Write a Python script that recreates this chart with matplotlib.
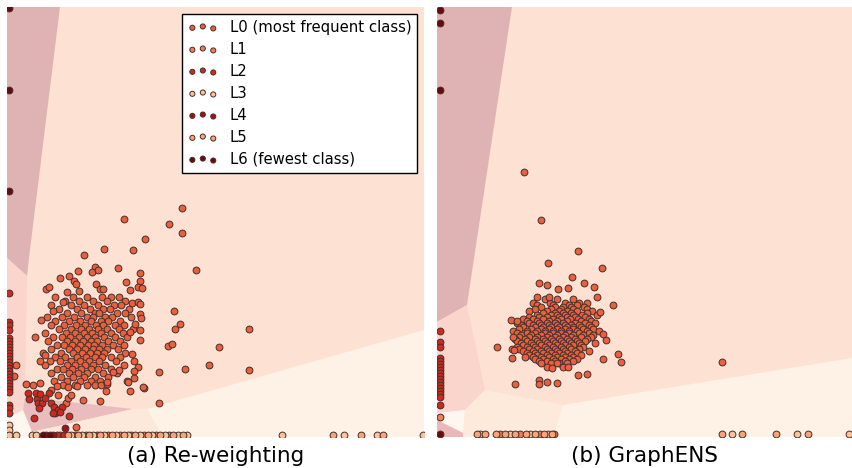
import matplotlib
matplotlib.use('Agg')
import matplotlib.pyplot as plt
from matplotlib.patches import Polygon, Rectangle

# ---------------- classes ----------------
CLASS_NAMES = ['L0 (most frequent class)', 'L1', 'L2', 'L3', 'L4', 'L5', 'L6 (fewest class)']
CLASS_COLORS = ['#e9603f', '#f07f58', '#cd2a1f', '#fcc39b', '#a11218', '#f9a37a', '#660a0e']
PANEL_TITLES = ['(a) Re-weighting', '(b) GraphENS']

# ---------------- panel (a) : Re-weighting ----------------
A_XLIM = (0, 417)
A_YLIM = (0, 430)

# dense core of class L0, stored as (y, [x, ...]) rows
A_L0_CORE = [
    (140, [48, 66, 80, 95, 104, 112]),
    (136, [58, 72, 86, 100, 118]),
    (132, [44, 64, 77, 91, 107, 114]),
    (128, [52, 70, 83, 96, 103, 122]),
    (124, [60, 74, 88, 92, 110, 118]),
    (120, [40, 55, 67, 80, 86, 98, 105, 124]),
    (116, [48, 62, 73, 84, 94, 101, 113]),
    (112, [44, 57, 69, 78, 89, 96, 108, 117]),
    (108, [52, 64, 74, 82, 91, 100, 112, 126]),
    (104, [38, 59, 68, 77, 85, 94, 104, 116]),
    (100, [46, 55, 63, 72, 80, 88, 97, 108, 120]),
    (96, [41, 60, 68, 76, 84, 90, 101, 113]),
    (92, [50, 57, 65, 73, 81, 87, 95, 106, 117]),
    (88, [44, 62, 70, 78, 86, 92, 100, 111]),
    (84, [36, 54, 66, 75, 83, 90, 97, 118]),
    (80, [48, 58, 70, 79, 88, 95, 104, 113]),
    (76, [43, 53, 64, 73, 82, 92, 109]),
    (72, [38, 60, 68, 78, 86, 98, 117]),
    (68, [50, 56, 65, 74, 84, 91, 104]),
    (64, [44, 62, 71, 80, 96, 110]),
    (60, [54, 66, 77, 88, 101]),
    (56, [47, 60, 73, 84, 93]),
    (52, [56, 68, 80, 88]),
]
A_L0_EXTRA = [
    (175, 229), (117, 218), (162, 213), (175, 204), (138, 198), (97, 188), (126, 187),
    (77, 182), (189, 167), (111, 169), (71, 166), (88, 170), (85, 165), (91, 167),
    (53, 159), (62, 161), (67, 156), (69, 153), (133, 164), (119, 155), (133, 156),
    (123, 147), (131, 150), (135, 149), (39, 148), (42, 150), (60, 145), (72, 146),
    (89, 153), (93, 148), (96, 148), (167, 126), (242, 108), (168, 108), (173, 113),
    (161, 91), (165, 93), (212, 90), (202, 72), (178, 68), (152, 65), (242, 67),
    (28, 100), (19, 53), (26, 52), (33, 76), (38, 82), (34, 117), (46, 126), (56, 135),
    (125, 134), (131, 135), (133, 133), (133, 123), (134, 119), (128, 113), (123, 105),
    (133, 107), (133, 97), (125, 83), (127, 76), (131, 70), (127, 66), (127, 59),
    (120, 56), (123, 46), (137, 49), (99, 46), (94, 52), (100, 53), (112, 67), (106, 65),
    (76, 37), (93, 36), (152, 34), (59, 34), (61, 39), (69, 10), (33, 54), (44, 47),
    (50, 51), (61, 50), (70, 51), (100, 55), (121, 55), (136, 50), (51, 42), (64, 42),
    (9, 72), (7, 61),
]
A_L1 = [(53, 2), (68, 2), (79, 2), (90, 2), (101, 2), (113, 2), (124, 2), (137, 2),
        (149, 2), (162, 2)]
A_L2 = [(2, 144), (2, 115), (2, 112), (2, 107), (2, 99), (2, 96), (2, 93), (2, 90),
        (2, 87), (2, 84), (2, 81), (2, 78), (2, 75), (2, 72), (2, 69), (2, 66), (2, 63),
        (2, 60), (2, 57), (2, 54), (2, 51), (2, 48), (2, 45), (2, 32), (2, 29), (2, 24),
        (21, 44), (22, 38), (30, 38), (31, 34), (29, 44), (33, 43), (35, 34), (32, 29),
        (42, 44), (44, 34), (47, 30), (48, 24), (51, 27), (55, 30), (53, 25), (46, 24),
        (27, 19), (62, 21), (38, 39), (50, 2), (57, 2)]
A_L3 = [(2, 12), (2, 7), (2, 2), (9, 2), (25, 2), (29, 2), (64, 2), (75, 2), (86, 2),
        (97, 2), (109, 2), (121, 2), (133, 2), (145, 2), (158, 2), (171, 2), (180, 2),
        (275, 2), (337, 2), (370, 2), (416, 2)]
A_L4 = [(58, 9), (39, 2), (46, 2)]
A_L5 = [(61, 2), (71, 2), (82, 2), (93, 2), (105, 2), (117, 2), (128, 2), (141, 2),
        (153, 2), (166, 2), (176, 2), (326, 2), (354, 2), (376, 2)]
A_L6 = [(2, 429), (2, 347), (2, 246), (36, 2), (43, 2)]

# decision regions of panel (a)
A_REGION_BG = '#fde2d3'
A_REGIONS = [
    ('#dfb3b3', [(0, 430), (53, 430), (22, 179), (20, 161), (0, 179)]),
    ('#f9d5cb', [(0, 179), (20, 161), (18, 40), (16, 27), (0, 19)]),
    ('#ebbcbd', [(18, 40), (126, 28), (25, 5), (16, 27)]),
    ('#fde8dc', [(25, 5), (126, 28), (140, 28), (156, 0), (27, 0)]),
    ('#fef2e7', [(140, 28), (417, 107), (417, 0), (156, 0)]),
    ('#fef6ef', [(0, 19), (16, 27), (25, 5), (27, 0), (0, 0)]),
]

# ---------------- panel (b) : GraphENS ----------------
B_XLIM = (0, 415)
B_YLIM = (0, 430)

B_L0_CORE = [
    (138, [108, 120, 136]),
    (134, [96, 113, 128, 142, 150]),
    (132, [100, 116, 132, 140]),
    (130, [104, 118, 126, 134, 147]),
    (128, [98, 114, 124, 136, 150]),
    (126, [92, 110, 122, 130, 140, 155]),
    (124, [106, 118, 126, 134, 150]),
    (122, [100, 114, 120, 128, 136, 145, 160]),
    (120, [92, 102, 110, 122, 130, 138, 148]),
    (118, [86, 96, 106, 116, 124, 133, 141, 152]),
    (116, [90, 100, 112, 120, 130, 144, 154]),
    (114, [80, 92, 102, 110, 118, 126, 138, 148, 158]),
    (112, [84, 96, 104, 112, 120, 128, 134, 142, 152]),
    (110, [86, 98, 106, 114, 122, 130, 136, 144, 154]),
    (108, [82, 94, 104, 112, 120, 128, 136, 146, 156]),
    (106, [76, 90, 100, 108, 116, 124, 132, 140, 150, 162]),
    (104, [80, 90, 98, 108, 116, 124, 132, 142, 152]),
    (102, [84, 94, 104, 112, 120, 128, 136, 146, 156]),
    (100, [82, 92, 100, 110, 118, 126, 134, 144, 154]),
    (98, [78, 88, 98, 106, 114, 122, 130, 138, 150]),
    (96, [80, 90, 100, 108, 116, 124, 132, 140, 148]),
    (94, [84, 94, 102, 110, 118, 126, 134, 142, 158]),
    (92, [86, 96, 104, 112, 120, 128, 136, 144]),
    (90, [80, 90, 98, 108, 116, 124, 132, 146]),
    (88, [82, 92, 100, 110, 118, 126, 134, 142]),
    (86, [86, 96, 104, 112, 120, 128, 138, 152]),
    (84, [90, 98, 106, 114, 122, 130, 140]),
    (82, [92, 100, 110, 118, 126, 134, 144]),
    (80, [96, 104, 112, 120, 128, 136]),
    (78, [98, 106, 116, 124, 132, 140]),
    (76, [102, 110, 118, 128, 136]),
    (74, [104, 114, 122, 130]),
    (70, [110, 126]),
]
B_L0_EXTRA = [
    (87, 265), (104, 217), (141, 186), (111, 174), (165, 169), (135, 160), (102, 154),
    (110, 152), (60, 90), (78, 53), (102, 57), (102, 53), (110, 55), (120, 54),
    (181, 83), (184, 75), (166, 78), (176, 132), (169, 97), (166, 103), (141, 62),
    (150, 63), (285, 75), (74, 117), (80, 116), (76, 100), (75, 88), (77, 87), (75, 79),
    (88, 80), (100, 140), (112, 140), (121, 148), (131, 149), (147, 154), (157, 150),
    (160, 140), (163, 125), (115, 69), (120, 74), (131, 70),
]
B_L1 = [(3, 20), (63, 3), (83, 3), (103, 3), (117, 3)]
B_L2 = [(3, 106), (3, 95), (3, 90), (3, 79), (3, 76), (3, 73), (3, 70), (3, 67), (3, 64),
        (3, 61), (3, 58), (3, 55), (3, 52), (3, 49), (3, 46), (3, 43), (3, 40), (3, 32)]
B_L3 = [(43, 3), (73, 3), (93, 3), (111, 3), (295, 3), (360, 3), (412, 3)]
B_L4 = []
B_L5 = [(40, 3), (48, 3), (59, 3), (68, 3), (78, 3), (89, 3), (98, 3), (107, 3), (115, 3),
        (285, 3), (305, 3), (339, 3), (371, 3)]
B_L6 = [(3, 427), (3, 414), (3, 347), (3, 3)]

B_REGION_BG = '#fde2d3'
B_REGIONS = [
    ('#dfb3b3', [(0, 430), (75, 430), (30, 132), (0, 115)]),
    ('#f9d5cb', [(0, 115), (30, 132), (48, 47), (28, 27), (0, 24)]),
    ('#fdeadb', [(48, 47), (126, 32), (116, 0), (26, 0), (26, 4), (28, 27)]),
    ('#fef2e6', [(126, 32), (415, 79), (415, 0), (116, 0)]),
    ('#fef7f1', [(0, 24), (28, 27), (26, 4), (0, 17)]),
    ('#ebb7b9', [(0, 17), (26, 4), (26, 0), (0, 0)]),
]


def expand_rows(rows):
    return [(x, y) for y, xs in rows for x in xs]


def draw_panel(ax, xlim, ylim, bg, regions, class_points):
    ax.set_xlim(*xlim)
    ax.set_ylim(*ylim)
    ax.axis('off')
    ax.add_patch(Rectangle((xlim[0], ylim[0]), xlim[1] - xlim[0], ylim[1] - ylim[0],
                           facecolor=bg, edgecolor='none', zorder=0))
    for color, verts in regions:
        ax.add_patch(Polygon(verts, closed=True, facecolor=color, edgecolor='none', zorder=1))
    handles = []
    for k, pts in enumerate(class_points):
        xs = [p[0] for p in pts]
        ys = [p[1] for p in pts]
        h = ax.scatter(xs, ys, s=24, c=CLASS_COLORS[k], edgecolors='#4a2c2a',
                       linewidths=0.7, zorder=3 + k, label=CLASS_NAMES[k])
        handles.append(h)
    return handles


fig = plt.figure(figsize=(8.52, 4.68), dpi=100)
ax_a = fig.add_axes([7 / 852, 31 / 468, 417 / 852, 430 / 468])
ax_b = fig.add_axes([437 / 852, 31 / 468, 415 / 852, 430 / 468])

a_points = [expand_rows(A_L0_CORE) + A_L0_EXTRA, A_L1, A_L2, A_L3, A_L4, A_L5, A_L6]
b_points = [expand_rows(B_L0_CORE) + B_L0_EXTRA, B_L1, B_L2, B_L3, B_L4, B_L5, B_L6]

handles = draw_panel(ax_a, A_XLIM, A_YLIM, A_REGION_BG, A_REGIONS, a_points)
draw_panel(ax_b, B_XLIM, B_YLIM, B_REGION_BG, B_REGIONS, b_points)

leg = ax_a.legend(handles, CLASS_NAMES, loc='upper right', scatterpoints=3,
                  fontsize=10.75, labelspacing=0.47, fancybox=False, framealpha=1,
                  edgecolor='black', markerscale=0.75, borderaxespad=0.45)
leg.get_frame().set_linewidth(1.0)
leg.set_zorder(20)

for ax, title in zip([ax_a, ax_b], PANEL_TITLES):
    ax.text(0.5, -0.058, title, transform=ax.transAxes, ha='center', va='baseline',
            fontsize=15.5)

fig.savefig('out.png', dpi=100)
